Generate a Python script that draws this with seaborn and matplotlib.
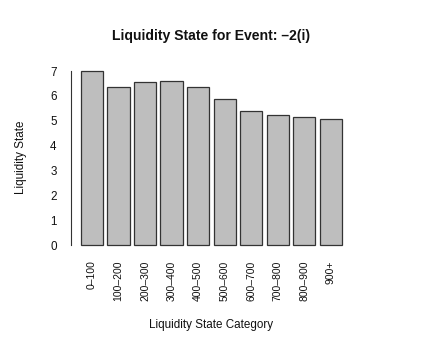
import numpy as np
import pandas as pd
import matplotlib
matplotlib.use("Agg")
import matplotlib.pyplot as plt
import seaborn as sns

categories = ["0–100", "100–200", "200–300", "300–400", "400–500",
              "500–600", "600–700", "700–800", "800–900", "900+"]
liquidity = [7.02, 6.37, 6.54, 6.58, 6.36, 5.87, 5.40, 5.22, 5.16, 5.05]

df = pd.DataFrame({"category": categories, "state": liquidity})

sns.set_style("white")
plt.rcParams["font.family"] = ["Liberation Sans", "DejaVu Sans"]

W, H = 423, 353
fig = plt.figure(figsize=(W / 100, H / 100), dpi=100)
# plot region in pixels (R-style barplot)
left, right, top, bottom = 70.5, 352.1, 63.3, 252.0
ax = fig.add_axes([left / W, 1 - bottom / H, (right - left) / W, (bottom - top) / H])

sns.barplot(data=df, x="category", y="state", color="#bebebe", width=1 / 1.2,
            edgecolor="#333333", linewidth=0.9, saturation=1, ax=ax)

ax.set_xlim(-0.81, 9.81)
ax.set_ylim(-0.28, 7.31)
ax.set_yticks(range(0, 8))
for s in ["top", "right", "bottom"]:
    ax.spines[s].set_visible(False)
ax.spines["left"].set_bounds(0, 7)
ax.spines["left"].set_linewidth(0.8)
ax.spines["left"].set_color("#333333")
ax.tick_params(axis="y", length=5.5, width=0.8, color="#333333", labelsize=8.4,
               pad=4.5, labelcolor="#111111")
ax.tick_params(axis="x", length=0, labelsize=7.5, pad=6, rotation=90,
               labelcolor="#111111")
for lab in ax.get_xticklabels():
    lab.set_va("top")
    lab.set_family(["Liberation Sans Narrow", "Liberation Sans"])
ax.set_xlabel("")
ax.set_ylabel("")

fig.text(211.2 / W, 1 - 36 / H, "Liquidity State for Event: –2(i)", ha="center",
         va="center", fontsize=10.1, fontweight="bold", color="#111111")
fig.text(211.2 / W, 1 - 325 / H, "Liquidity State Category", ha="center",
         va="center", fontsize=8.4, color="#111111")
fig.text(21 / W, 1 - 157.7 / H, "Liquidity State", ha="center", va="center",
         rotation="vertical", fontsize=8.4, color="#111111")

plt.savefig("out.png", dpi=100)
